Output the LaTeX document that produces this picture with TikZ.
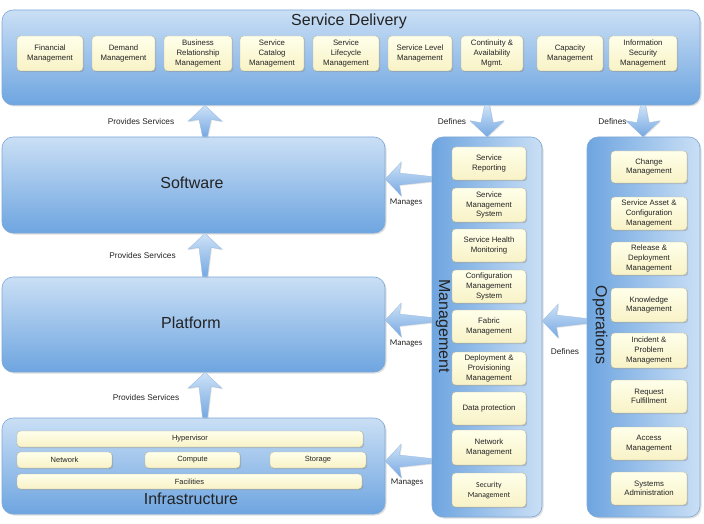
\documentclass[tikz,border=0pt]{standalone}
\usepackage{fontspec}
\setmainfont{Liberation Sans}
\newfontfamily\calib{Carlito}
\usetikzlibrary{calc,shadows}
\definecolor{bl}{RGB}{202,223,245}
\definecolor{bd}{RGB}{110,165,224}
\definecolor{bb}{RGB}{125,168,215}
\definecolor{yl}{RGB}{255,255,234}
\definecolor{yd}{RGB}{248,242,198}
\definecolor{yb}{RGB}{190,185,155}
\definecolor{txt}{RGB}{35,35,35}
\definecolor{al}{RGB}{205,226,247}
\definecolor{ad}{RGB}{118,168,226}
\tikzset{
  bigbox/.style={draw=bb, line width=0.6pt, rounded corners=11pt, top color=bl, bottom color=bd,
    drop shadow={opacity=0.25, shadow xshift=1.5pt, shadow yshift=-1.5pt}},
  vertbox/.style={draw=bb, line width=0.6pt, rounded corners=11pt, left color=bd, right color=bl,
    drop shadow={opacity=0.25, shadow xshift=1.5pt, shadow yshift=-1.5pt}},
  item/.style={draw=yb, line width=0.4pt, rounded corners=3.5pt, top color=yl, bottom color=yd,
    drop shadow={opacity=0.35, shadow xshift=1.2pt, shadow yshift=-1.2pt},
    align=center, text=txt, font=\fontsize{7.8}{9.6}\selectfont, inner sep=1pt},
  bar/.style={item, font=\fontsize{7.5}{9}\selectfont},
  title/.style={text=txt, font=\fontsize{16}{18}\selectfont, inner sep=0pt},
  lbl/.style={text=txt, font=\fontsize{8.3}{10}\selectfont, inner sep=1pt},
  clbl/.style={text=txt, font=\calib\fontsize{8.8}{10}\selectfont, inner sep=1pt},
  arrsty/.style={top color=al, bottom color=ad, draw=bb!80, line width=0.3pt,
    drop shadow={opacity=0.2, shadow xshift=1pt, shadow yshift=-1pt}},
}
\newcommand\barrow[2]{%
  \path[arrsty] (#1)
   -- ($(#1)!16pt!(#2)!17pt!90:(#2)$)
   -- ($(#1)!14pt!(#2)!6pt!90:(#2)$)
   -- ($(#2)!2.5pt!-90:(#1)$)
   -- ($(#2)!2.5pt!90:(#1)$)
   -- ($(#1)!14pt!(#2)!6pt!-90:(#2)$)
   -- ($(#1)!16pt!(#2)!17pt!-90:(#2)$)
   -- cycle;}
\begin{document}
\begin{tikzpicture}[x=1pt,y=-1pt]
\useasboundingbox (0,0) rectangle (704,524);

% ---------- Service Delivery ----------
\node[bigbox, minimum width=698pt, minimum height=95pt] (sd) at (351,57.5) {};
\node[title] (sdt) at (349,21) {Service Delivery};
\node[item, minimum width=66pt, minimum height=35pt] (sd1) at (50,53.5) {Financial\\Management};
\node[item, minimum width=63pt, minimum height=35pt] (sd2) at (123.5,53.5) {Demand\\Management};
\node[item, minimum width=68pt, minimum height=35pt] (sd3) at (198,53.5) {Business\\Relationship\\Management};
\node[item, minimum width=64pt, minimum height=35pt] (sd4) at (272,53.5) {Service\\Catalog\\Management};
\node[item, minimum width=66pt, minimum height=35pt] (sd5) at (346,53.5) {Service\\Lifecycle\\Management};
\node[item, minimum width=64pt, minimum height=35pt] (sd6) at (420,53.5) {Service Level\\Management};
\node[item, minimum width=62pt, minimum height=35pt] (sd7) at (492,53.5) {Continuity \&\\Availability\\Mgmt.};
\node[item, minimum width=66pt, minimum height=35pt] (sd8) at (570,53.5) {Capacity\\Management};
\node[item, minimum width=68pt, minimum height=35pt] (sd9) at (643,53.5) {Information\\Security\\Management};

% ---------- Software / Platform ----------
\node[bigbox, minimum width=383pt, minimum height=96pt] (sw) at (193.5,185) {};
\node[title] (swt) at (192,183) {Software};
\node[bigbox, minimum width=383pt, minimum height=95pt] (pf) at (193.5,324.5) {};
\node[title] (pft) at (191,323) {Platform};

% ---------- Infrastructure ----------
\node[bigbox, minimum width=383pt, minimum height=96pt] (inf) at (193.5,466) {};
\node[bar, minimum width=346pt, minimum height=16pt] (hyp) at (190,439) {Hypervisor};
\node[bar, minimum width=95pt, minimum height=16pt] (net) at (64.5,460) {Network};
\node[bar, minimum width=95pt, minimum height=16pt] (cmp) at (192.5,460) {Compute};
\node[bar, minimum width=96pt, minimum height=16pt] (sto) at (318,460) {Storage};
\node[bar, minimum width=345pt, minimum height=15pt] (fac) at (189.5,481.5) {Facilities};
\node[title] (inft) at (191,499) {Infrastructure};

% ---------- Management ----------
\node[vertbox, minimum width=110pt, minimum height=380pt] (mg) at (487,327) {};
\node[title, rotate=-90] (mgt) at (443,326) {Management};
\node[item, minimum width=74pt, minimum height=33pt] (m1) at (489,163.5) {Service\\Reporting};
\node[item, minimum width=74pt, minimum height=34pt] (m2) at (489,205) {Service\\Management\\System};
\node[item, minimum width=74pt, minimum height=33pt] (m3) at (489,245.5) {Service Health\\Monitoring};
\node[item, minimum width=74pt, minimum height=33pt] (m4) at (489,286.5) {Configuration\\Management\\System};
\node[item, minimum width=74pt, minimum height=33pt] (m5) at (489,326.5) {Fabric\\Management};
\node[item, minimum width=74pt, minimum height=33pt] (m6) at (489,368.5) {Deployment \&\\Provisioning\\Management};
\node[item, minimum width=74pt, minimum height=33pt] (m7) at (489,408.5) {Data protection};
\node[item, minimum width=74pt, minimum height=35pt] (m8) at (489,447.5) {Network\\Management};
\node[item, minimum width=74pt, minimum height=34pt, font=\calib\fontsize{7.8}{10}\selectfont] (m9) at (489,490) {Security\\Management};

% ---------- Operations ----------
\node[vertbox, minimum width=113pt, minimum height=380pt] (op) at (643.5,327) {};
\node[title, rotate=-90] (opt) at (600,325) {Operations};
\node[item, minimum width=76pt, minimum height=32pt] (o1) at (649,167) {Change\\Management};
\node[item, minimum width=76pt, minimum height=33pt] (o2) at (649,213.5) {Service Asset \&\\Configuration\\Management};
\node[item, minimum width=76pt, minimum height=33pt] (o3) at (649,258.5) {Release \&\\Deployment\\Management};
\node[item, minimum width=76pt, minimum height=34pt] (o4) at (649,305) {Knowledge\\Management};
\node[item, minimum width=76pt, minimum height=35pt] (o5) at (649,350.5) {Incident \&\\Problem\\Management};
\node[item, minimum width=76pt, minimum height=33pt] (o6) at (649,396.5) {Request\\Fulfillment};
\node[item, minimum width=76pt, minimum height=33pt] (o7) at (649,443.5) {Access\\Management};
\node[item, minimum width=76pt, minimum height=33pt] (o8) at (649,488.5) {Systems\\Administration};

% ---------- arrows ----------
\coordinate (cx) at (205,0);
\coordinate (dx1) at (487,0);
\coordinate (dx2) at (643,0);
\coordinate (ry1) at (0,179);
\coordinate (ry2) at (0,320);
\coordinate (ry3) at (0,461);
\coordinate (ry4) at (0,321);

\coordinate (t1) at (cx |- sd.south);  \coordinate (s1) at (cx |- sw.north);
\coordinate (t2) at (cx |- sw.south);  \coordinate (s2) at (cx |- pf.north);
\coordinate (t3) at (cx |- pf.south);  \coordinate (s3) at (cx |- inf.north);
\coordinate (t4) at (dx1 |- mg.north); \coordinate (s4) at (dx1 |- sd.south);
\coordinate (t5) at (dx2 |- op.north); \coordinate (s5) at (dx2 |- sd.south);
\coordinate (t6) at (ry1 -| sw.east);  \coordinate (s6) at (ry1 -| mg.west);
\coordinate (t7) at (ry2 -| pf.east);  \coordinate (s7) at (ry2 -| mg.west);
\coordinate (t8) at (ry3 -| inf.east); \coordinate (s8) at (ry3 -| mg.west);
\coordinate (t9) at (ry4 -| mg.east);  \coordinate (s9) at (ry4 -| op.west);

\barrow{t1}{s1}
\barrow{t2}{s2}
\barrow{t3}{s3}
\barrow{t4}{s4}
\barrow{t5}{s5}
\barrow{t6}{s6}
\barrow{t7}{s7}
\barrow{t8}{s8}
\barrow{t9}{s9}

% ---------- labels ----------
\node[lbl] (l1) at (141,122) {Provides Services};
\node[lbl] (l2) at (142.5,256) {Provides Services};
\node[lbl] (l3) at (146,398) {Provides Services};
\node[lbl] (l4) at (452,122) {Defines};
\node[lbl] (l5) at (612.5,122) {Defines};
\node[lbl] (l6) at (565,352) {Defines};
\node[clbl] (l7) at (406,202) {Manages};
\node[clbl] (l8) at (406,343) {Manages};
\node[clbl] (l9) at (407,482) {Manages};
\end{tikzpicture}
\end{document}
